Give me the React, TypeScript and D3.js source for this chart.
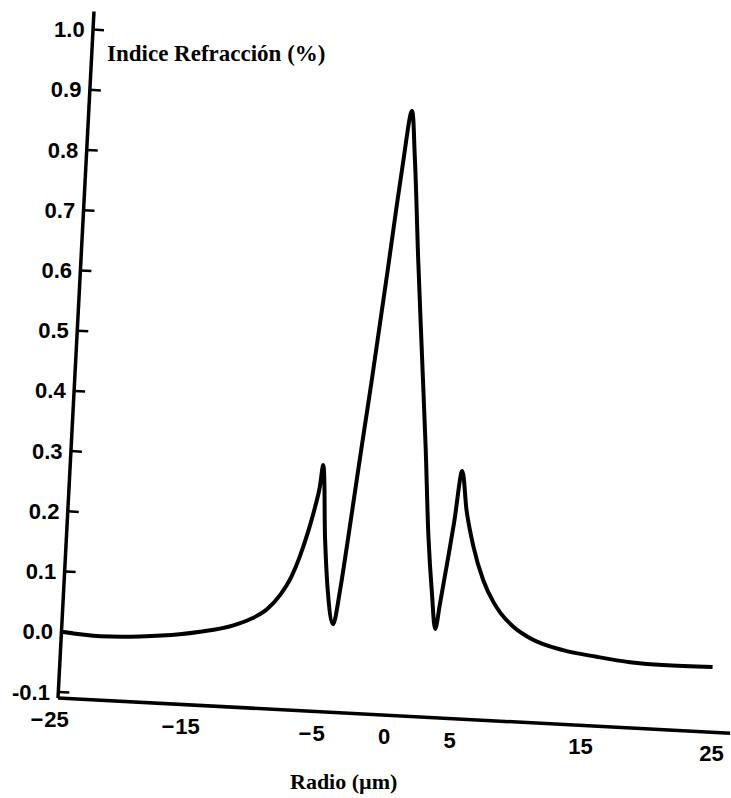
import React from 'react';
import * as d3 from 'd3';

// radial position (µm) and index difference (%)
const radio = [
  -25, -22, -19, -16, -14.45, -12, -10.7, -9.45, -8.5, -7.7, -7.15, -6.65, -6.2, -5.9, -5.75,
  -5.3, -4.9, -4.35, -3.95, -3.6, -3.25, -2.9, -2.4, -2.0, -1.6, -1.2, -0.9, -0.4,
  0.0, 0.65, 1.35, 2.0, 2.55, 3.05, 3.45, 3.7, 4.1, 4.45, 4.85, 5.35, 6.0, 6.9, 7.75, 8.35,
  9.35, 10.7, 13.25, 15.85, 18.4, 20.9, 24.7,
];
const indice = [
  0.0, -0.004, -0.001, 0.006, 0.012, 0.025, 0.037, 0.055, 0.08, 0.112, 0.146, 0.185, 0.228, 0.265, 0.299,
  0.175, 0.092, 0.036, 0.095, 0.17, 0.25, 0.33, 0.44, 0.535, 0.63, 0.73, 0.8, 0.893,
  0.817, 0.652, 0.486, 0.333, 0.19, 0.095, 0.037, 0.08, 0.15, 0.215, 0.301, 0.236, 0.178, 0.122, 0.087, 0.069,
  0.048, 0.03, 0.013, 0.005, -0.001, -0.003, -0.002,
];
const yTicks = [-0.1, 0.0, 0.1, 0.2, 0.3, 0.4, 0.5, 0.6, 0.7, 0.8, 0.9, 1.0];
const xTicks = [-25, -15, -5, 0, 5, 15, 25];

const W = 731;
const H = 798;
const TILT = 3; // the scan is turned a little clockwise

const App = () => {
  const x = d3.scaleLinear().domain([-25, 25]).range([0, 656]);
  const y = d3.scaleLinear().domain([-0.11, 1.03]).range([0, -1.14 * 603]);

  const pts = radio.map((r, i) => [r, indice[i]] as [number, number]);
  const line = d3
    .line<[number, number]>()
    .x((d) => x(d[0]))
    .y((d) => y(d[1]))
    .curve(d3.curveMonotoneX);

  const sans = 'Liberation Sans, Arial, sans-serif';
  const serif = 'Liberation Serif, Times New Roman, serif';

  return (
    <svg width={W} height={H} style={{ position: 'absolute', left: 0, top: 0, background: '#fff' }}>
      <g transform={`translate(58,698) rotate(${TILT})`}>
        {/* axes */}
        <line x1={0} y1={y(-0.11)} x2={0} y2={y(1.03)} stroke="#000" strokeWidth={3.5} />
        <line x1={0} y1={0} x2={x(26.3)} y2={0} stroke="#000" strokeWidth={3.5} />

        {yTicks.map((t) => (
          <g key={t}>
            <line x1={0} y1={y(t)} x2={11} y2={y(t)} stroke="#000" strokeWidth={2.5} />
            <text
              transform={`translate(-8,${y(t) + 8}) rotate(${-TILT})`}
              textAnchor="end"
              fontFamily={sans}
              fontWeight="bold"
              fontSize={22}
            >
              {t.toFixed(1)}
            </text>
          </g>
        ))}

        {xTicks.map((t) => {
          const s = String(Math.abs(t));
          return (
            <g key={t} transform={`translate(${x(t)},29) rotate(${-TILT})`}>
              <text textAnchor="middle" fontFamily={sans} fontWeight="bold" fontSize={22}>
                {s}
              </text>
              {t < 0 && (
                <text
                  x={-(s.length * 12.2) / 2 - 1}
                  textAnchor="end"
                  fontFamily={sans}
                  fontWeight="bold"
                  fontSize={22}
                >
                  −
                </text>
              )}
            </g>
          );
        })}

        <path d={line(pts) || ''} fill="none" stroke="#000" strokeWidth={4} strokeLinejoin="round" />
      </g>

      <text x={107} y={61} fontFamily={serif} fontWeight="bold" fontSize={23}>
        Indice Refracción (%)
      </text>
      <text x={290} y={789} fontFamily={serif} fontWeight="bold" fontSize={22}>
        Radio (µm)
      </text>
    </svg>
  );
};

export default App;
